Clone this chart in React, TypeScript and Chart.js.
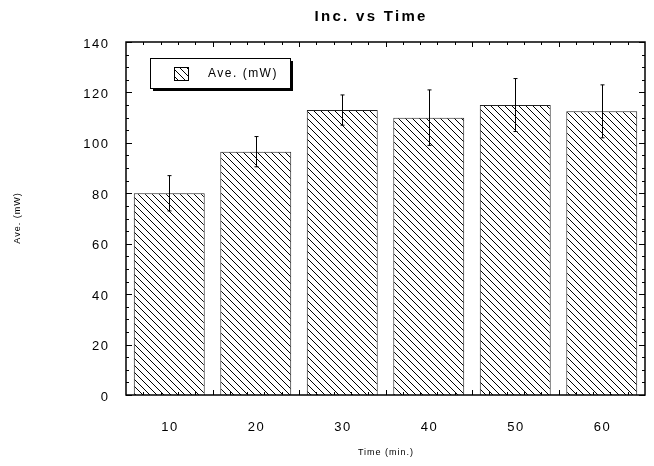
import React, { useEffect, useRef } from "react";
import { Chart, registerables } from "chart.js";

Chart.register(...registerables);

const chartTitle = "Inc. vs Time";
const seriesLabel = "Ave. (mW)";
const xTitle = "Time (min.)";
const yTitle = "Ave. (mW)";
const times = ["10", "20", "30", "40", "50", "60"];
const aveMW = [80, 96.5, 113, 110, 115, 112.5];
const errMW = [7, 6, 6, 11, 10.5, 10.5];
const yMin = 0;
const yMax = 140;
const yStep = 20;

const FONT = "'Liberation Sans', Arial, Helvetica, sans-serif";

function makeHatch(): CanvasPattern | string {
  const s = 7;
  const c = document.createElement("canvas");
  c.width = s;
  c.height = s;
  const g = c.getContext("2d");
  if (!g) return "#fff";
  g.fillStyle = "#fff";
  g.fillRect(0, 0, s, s);
  g.strokeStyle = "#000";
  g.lineWidth = 1;
  g.beginPath();
  for (const k of [-s, 0, s]) {
    g.moveTo(k, 0);
    g.lineTo(k + s, s);
  }
  g.stroke();
  const p = g.createPattern(c, "repeat");
  return p || "#fff";
}

// widen letter spacing of all canvas text, like the reference's typeface
function spaceText(ctx: any) {
  const origFill = ctx.fillText;
  ctx.fillText = function (text: string, x: number, y: number, mw?: number) {
    const m = /(\d+(?:\.\d+)?)px/.exec(this.font);
    const size = m ? parseFloat(m[1]) : 12;
    const bold = /bold|700/.test(this.font);
    const sp = bold ? 2.3 : size <= 10 ? 1 : 1.5;
    const prev = this.letterSpacing;
    this.letterSpacing = sp + "px";
    let dx = 0;
    if (this.textAlign === "center") dx = sp / 2;
    else if (this.textAlign === "right" || this.textAlign === "end") dx = sp;
    if (mw === undefined) origFill.call(this, text, x + dx, y);
    else origFill.call(this, text, x + dx, y, mw + 40);
    this.letterSpacing = prev;
  };
}

const titlePosPlugin = {
  id: "titlePos",
  afterLayout(chart: any) {
    const tb = chart.titleBlock;
    if (!tb) return;
    const { right, left } = chart.chartArea;
    const center = left + 244;
    tb.right = right;
    tb.left = 2 * center - right;
    tb.width = tb.right - tb.left;
  },
};

const errorBarPlugin = {
  id: "errorBars",
  afterDatasetsDraw(chart: any) {
    const ctx = chart.ctx;
    const xs = chart.scales.x;
    const ys = chart.scales.y;
    ctx.save();
    ctx.strokeStyle = "#000";
    ctx.lineWidth = 1;
    aveMW.forEach((v, i) => {
      const x = Math.round(xs.getPixelForValue(i)) + 0.5;
      const yt = ys.getPixelForValue(v + errMW[i]);
      const yb = ys.getPixelForValue(v - errMW[i]);
      ctx.beginPath();
      ctx.moveTo(x, yt);
      ctx.lineTo(x, yb);
      ctx.moveTo(x - 2, yt);
      ctx.lineTo(x + 2, yt);
      ctx.moveTo(x - 2, yb);
      ctx.lineTo(x + 2, yb);
      ctx.stroke();
    });
    ctx.restore();
  },
};

const framePlugin = {
  id: "frame",
  afterDraw(chart: any) {
    const ctx = chart.ctx;
    const { left, right, top, bottom } = chart.chartArea;
    const ys = chart.scales.y;
    ctx.save();
    ctx.strokeStyle = "#000";
    ctx.lineWidth = 1;
    ctx.beginPath();
    for (let v = yMin; v <= yMax; v += 5) {
      const y = Math.round(ys.getPixelForValue(v)) + 0.5;
      const len = v % yStep === 0 ? 6 : 3;
      ctx.moveTo(left, y);
      ctx.lineTo(left + len, y);
      ctx.moveTo(right, y);
      ctx.lineTo(right - len, y);
    }
    const n = times.length * 5;
    const step = (right - left) / n;
    for (let j = 1; j < n; j++) {
      const x = Math.round(left + j * step) + 0.5;
      const len = j % 5 === 0 ? 5 : 3;
      ctx.moveTo(x, top);
      ctx.lineTo(x, top + len);
      ctx.moveTo(x, bottom);
      ctx.lineTo(x, bottom - len);
    }
    ctx.stroke();
    ctx.lineWidth = 1.5;
    ctx.strokeRect(left, top, right - left, bottom - top);
    ctx.restore();
  },
};

const legendPlugin = {
  id: "boxLegend",
  afterDraw(chart: any) {
    const ctx = chart.ctx;
    const { left, top } = chart.chartArea;
    const bx = left + 24;
    const by = top + 16;
    const bw = 140;
    const bh = 30;
    ctx.save();
    ctx.fillStyle = "#000";
    ctx.fillRect(bx + 3, by + 3, bw, bh);
    ctx.fillStyle = "#fff";
    ctx.fillRect(bx, by, bw, bh);
    ctx.strokeStyle = "#000";
    ctx.lineWidth = 1;
    ctx.strokeRect(bx + 0.5, by + 0.5, bw, bh);
    ctx.fillStyle = chart.data.datasets[0].backgroundColor;
    ctx.fillRect(bx + 24, by + 9, 14, 13);
    ctx.strokeRect(bx + 24.5, by + 9.5, 14, 13);
    ctx.fillStyle = "#000";
    ctx.font = `12px ${FONT}`;
    ctx.textBaseline = "middle";
    ctx.textAlign = "left";
    ctx.fillText(chart.data.datasets[0].label, bx + 58, by + 16);
    ctx.restore();
  },
};

export default function App() {
  const ref = useRef<HTMLCanvasElement>(null);
  useEffect(() => {
    document.body.style.margin = "0";
    if (!ref.current) return;
    const c2d = ref.current.getContext("2d");
    if (c2d) spaceText(c2d);
    const hatch = makeHatch();
    const chart = new Chart(ref.current, {
      type: "bar",
      data: {
        labels: times,
        datasets: [
          {
            label: seriesLabel,
            data: aveMW,
            backgroundColor: hatch as any,
            borderColor: "#222",
            borderWidth: 1,
            barPercentage: 0.82,
            categoryPercentage: 1,
          },
        ],
      },
      options: {
        responsive: false,
        animation: false,
        devicePixelRatio: 1,
        layout: { padding: { left: 0, right: 9, top: 0, bottom: 0 } },
        plugins: {
          legend: { display: false },
          tooltip: { enabled: false },
          title: {
            display: true,
            text: chartTitle,
            color: "#000",
            font: { family: FONT, size: 15, weight: "bold" },
            padding: { top: 8, bottom: 16 },
          },
        },
        scales: {
          x: {
            type: "category",
            offset: true,
            grid: { display: false, drawTicks: false },
            border: { display: false },
            ticks: { color: "#000", font: { family: FONT, size: 13 }, padding: 25 },
            title: {
              display: true,
              text: xTitle,
              color: "#000",
              font: { family: FONT, size: 9 },
              padding: { top: 0, bottom: 8 },
            },
            afterFit: (s: any) => {
              s.height = 71;
            },
          },
          y: {
            min: yMin,
            max: yMax,
            grid: { display: false, drawTicks: false },
            border: { display: false },
            ticks: {
              stepSize: yStep,
              color: "#000",
              font: { family: FONT, size: 13 },
              padding: 18,
              labelOffset: 2,
            },
            title: {
              display: true,
              text: yTitle,
              color: "#000",
              font: { family: FONT, size: 9 },
              padding: { top: 12, bottom: 0 },
            },
            afterFit: (s: any) => {
              s.width = 126;
            },
          },
        },
      },
      plugins: [titlePosPlugin, errorBarPlugin, framePlugin, legendPlugin],
    });
    return () => chart.destroy();
  }, []);
  return (
    <div style={{ width: 654, height: 466, background: "#fff" }}>
      <canvas ref={ref} width={654} height={466} style={{ display: "block" }} />
    </div>
  );
}
